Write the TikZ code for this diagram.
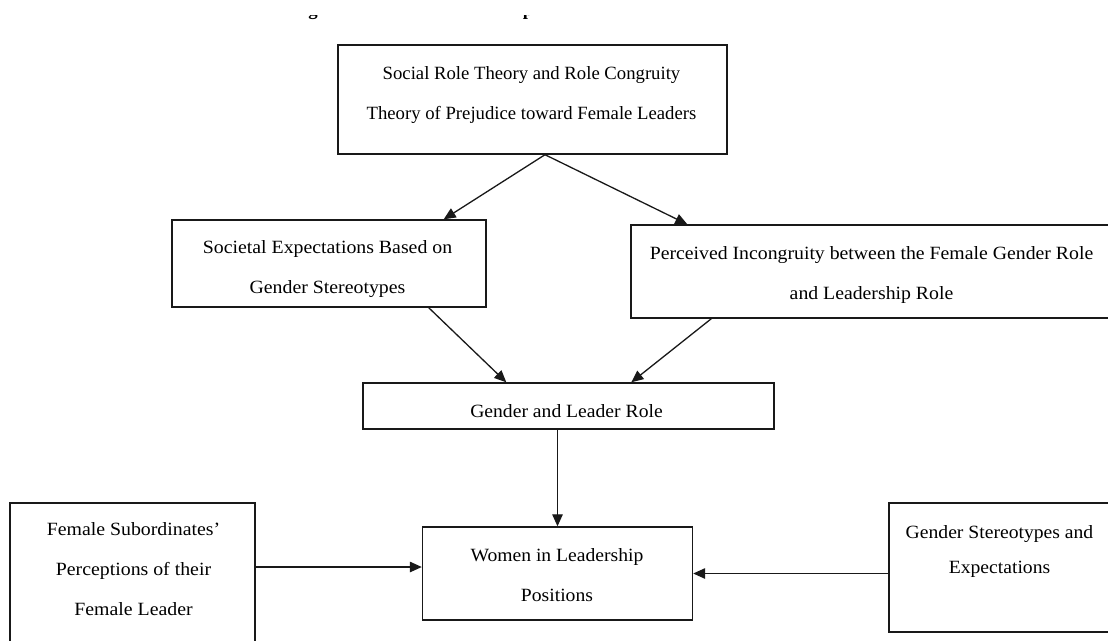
\documentclass[tikz,border=0pt]{standalone}
\usepackage{graphicx}
\usepackage{fontspec}
\setmainfont{Liberation Serif}
\usetikzlibrary{arrows.meta}
% centred lines, stretched horizontally by #1
\newcommand\hlines[2]{\scalebox{#1}[1]{\begin{tabular}{@{}c@{}}#2\end{tabular}}}
\begin{document}
\begin{tikzpicture}[x=1pt,y=-1pt,
  frame/.style={draw=black!90,line width=1.4pt,rectangle,inner sep=0pt},
  caption/.style={font=\fontsize{18.7}{40}\selectfont,inner sep=0pt},
  link/.style={draw=black!90,line width=1.3pt,-{Triangle[length=12pt,width=10.5pt]}}]
\useasboundingbox (0,0) rectangle (1108,640);
\fill[white] (0,0) rectangle (1108,640);
\clip (0,0) rectangle (1108,640);

% heading line above the figure, cut off at the top edge
\begin{scope}
  \clip (0,15) rectangle (1108,30);
  \node[font=\fontsize{18.7}{22}\selectfont\bfseries,anchor=base,inner sep=0pt] (headg) at (313,15) {g};
  \node[font=\fontsize{18.7}{22}\selectfont\bfseries,anchor=base,inner sep=0pt] (headp) at (528,15) {p};
\end{scope}

% boxes
\node[frame,minimum width=389pt,minimum height=109pt] (theory) at (532.5,99.5) {};
\node[caption] (theoryT) at (531.5,91) {\hlines{1}{Social Role Theory and Role Congruity\\Theory of Prejudice toward Female Leaders}};

\node[frame,minimum width=314pt,minimum height=87pt] (soc) at (329,263.5) {};
\node[caption] (socT) at (327.5,265.5) {\hlines{1.06}{Societal Expectations Based on\\Gender Stereotypes}};

\node[frame,minimum width=499pt,minimum height=93pt] (inc) at (880.5,271.5) {};
\node[caption] (incT) at (871.5,271) {\hlines{1.057}{Perceived Incongruity between the Female Gender Role\\and Leadership Role}};

\node[frame,minimum width=411pt,minimum height=46pt] (glr) at (568.5,406) {};
\node[caption] (glrT) at (566.5,409) {\hlines{1.05}{Gender and Leader Role}};

\node[frame,minimum width=270pt,minimum height=93pt] (wil) at (557.5,573.5) {};
\node[caption] (wilT) at (557,573) {\hlines{1.05}{Women in Leadership\\Positions}};

\node[frame,minimum width=245pt,minimum height=197pt] (fsp) at (132.5,601.5) {};
\node[caption] (fspT) at (133.5,567.5) {\hlines{1.06}{Female Subordinates’\\Perceptions of their\\Female Leader}};

\node[frame,minimum width=241pt,minimum height=129pt] (gse) at (1009.5,567.5) {};
\node[caption] (gseT) at (999.5,547.5) {\hlines{1.05}{Gender Stereotypes and\\[-5pt]Expectations}};

% connectors
\draw[link] ([xshift=12.5pt]theory.south) -- ([xshift=-43pt]soc.north east);
\draw[link] ([xshift=12.5pt]theory.south) -- ([xshift=57pt]inc.north west);
\draw[link] ([xshift=-58pt]soc.south east) -- ([xshift=144pt]glr.north west);
\draw[link] ([xshift=81pt]inc.south west) -- ([xshift=269pt]glr.north west);
\draw[link] (glr.south -| wil.north) -- (wil.north);
\coordinate (wilin) at ([yshift=6.5pt]wil.west);
\draw[link] (fsp.east |- wilin) -- (wilin);
\draw[link] (gse.west |- wil.east) -- (wil.east);
\end{tikzpicture}
\end{document}
